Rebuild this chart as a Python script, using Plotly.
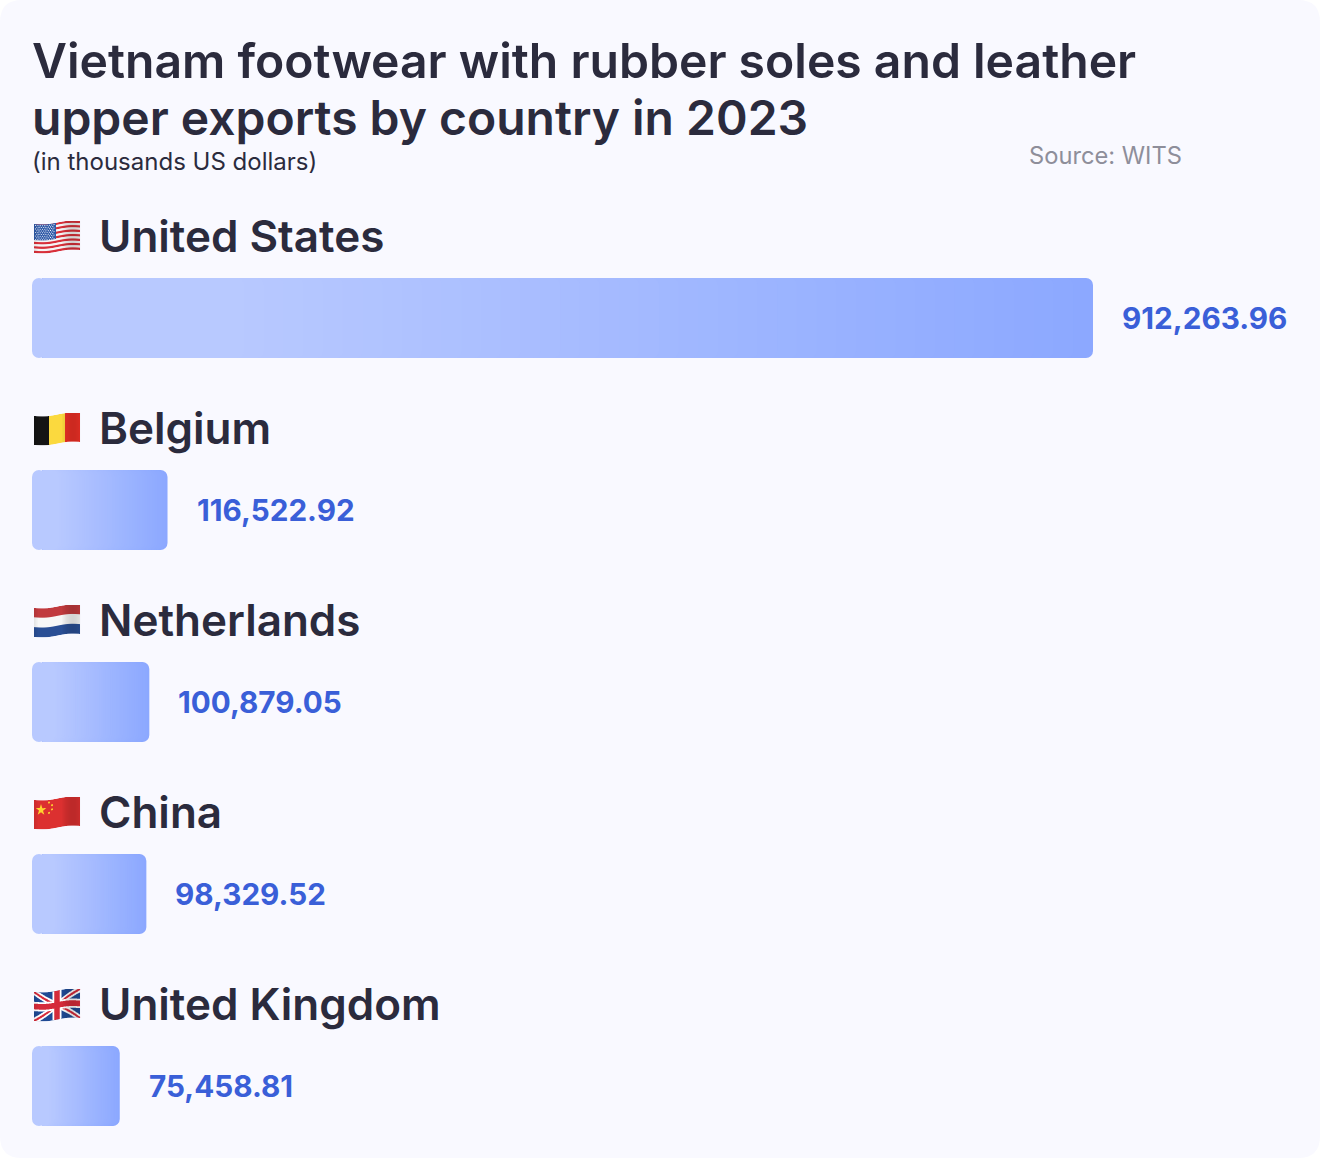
import base64
import math
import plotly.graph_objects as go

W = 1320
H = 1158

countries = ["United States", "Belgium", "Netherlands", "China", "United Kingdom"]
exports = [912263.96, 116522.92, 100879.05, 98329.52, 75458.81]

# flat flag artwork, 46x28, gets waved further down
stars = "".join(f'<circle cx="{1.6+2.3*c+(1.15 if r%2 else 0):.1f}" cy="{1.3+1.7*r:.1f}" r="0.55" fill="#fff"/>'
                for r in range(9) for c in range(8 if r % 2 else 9))
us_stripes = "".join(f'<rect y="{i*28/13:.2f}" width="46" height="{28/13+0.1:.2f}" fill="{"#D8303A" if i%2==0 else "#F5F5F5"}"/>'
                     for i in range(13))
flags = [
    us_stripes + '<rect width="22" height="15.5" fill="#2F5AA8"/>' + stars,
    '<rect width="16" height="28" fill="#141414"/><rect x="15" width="16" height="28" fill="#FBD93E"/>'
    '<rect x="31" width="15" height="28" fill="#EE3026"/>',
    '<rect width="46" height="10" fill="#C13A3E"/><rect y="9" width="46" height="10" fill="#F7F7F7"/>'
    '<rect y="18.5" width="46" height="9.5" fill="#2A4F95"/>',
    '<rect width="46" height="28" fill="#DC3030"/>'
    '<polygon points="7,3.5 8.3,7.5 12.3,7.5 9,10 10.3,14 7,11.5 3.7,14 5,10 1.7,7.5 5.7,7.5" fill="#FFD52E"/>'
    '<circle cx="15" cy="2.5" r="1" fill="#FFD52E"/><circle cx="18" cy="5.5" r="1" fill="#FFD52E"/>'
    '<circle cx="18" cy="9.5" r="1" fill="#FFD52E"/><circle cx="15" cy="12.5" r="1" fill="#FFD52E"/>',
    '<rect width="46" height="28" fill="#1F4A94"/>'
    '<path d="M0,0L46,28M46,0L0,28" stroke="#fff" stroke-width="5.5"/>'
    '<path d="M0,0L46,28M46,0L0,28" stroke="#D52B3A" stroke-width="2"/>'
    '<path d="M23,0V28M0,14H46" stroke="#fff" stroke-width="9"/>'
    '<path d="M23,0V28M0,14H46" stroke="#D52B3A" stroke-width="5.5"/>',
]


def wave_flag(art):
    cols = ""
    for x in range(46):
        dy = 3.0 * (1 - x / 46) + 1.0 * math.sin(2 * math.pi * x / 46)
        shade = 0.14 * max(0, math.sin(2 * math.pi * x / 46 + 2.6))
        cols += (f'<svg x="{x}" y="{dy:.2f}" width="1.4" height="29" viewBox="{x} 0 1.4 28" '
                 f'preserveAspectRatio="none"><use href="#f"/>'
                 f'<rect x="{x}" width="1.4" height="28" fill="#000" opacity="{shade:.3f}"/></svg>')
    svg = (f'<svg xmlns="http://www.w3.org/2000/svg" width="94" height="66" viewBox="0 0 47 33">'
           f'<defs><g id="f">{art}</g></defs>{cols}</svg>')
    return "data:image/svg+xml;base64," + base64.b64encode(svg.encode()).decode()


FONT = "Inter"
INK = "#2B2B3D"
bar_left = (184, 201, 255)
bar_right = (140, 168, 255)
levels = 44

x_per_px = exports[0] / 1061
cap = 7 * x_per_px  # plotly only rounds the far end of a bar, so the left end gets its own cap

fig = go.Figure()

# no gradient fill on plotly bars, so overlay bars from longest to shortest
for i in range(levels):
    t = i / (levels - 1)
    frac = 1 - 0.8 * t
    col = [round(bar_right[c] + (bar_left[c] - bar_right[c]) * t) for c in range(3)]
    fig.add_trace(go.Bar(
        y=countries,
        x=[v * frac - cap for v in exports],
        base=cap,
        orientation="h",
        width=80 / 192,
        marker=dict(color=f"rgb({col[0]},{col[1]},{col[2]})", line=dict(width=0)),
        showlegend=False,
        hoverinfo="skip",
    ))

fig.add_trace(go.Bar(
    y=countries,
    x=[-2 * cap] * len(countries),
    base=2 * cap,
    orientation="h",
    width=80 / 192,
    marker=dict(color=f"rgb{bar_left}", line=dict(width=0)),
    showlegend=False,
    hoverinfo="skip",
))

annotations = []
images = []
for i, (name, val) in enumerate(zip(countries, exports)):
    annotations.append(dict(x=0, y=name, xref="x", yref="y", text=name, showarrow=False,
                            xanchor="left", yanchor="middle", xshift=64.5, yshift=82,
                            font=dict(family=FONT, size=44, color=INK, weight=600)))
    annotations.append(dict(x=val, y=name, xref="x", yref="y", text=f"{val:,.2f}", showarrow=False,
                            xanchor="left", yanchor="middle", xshift=27, yshift=0,
                            font=dict(family=FONT, size=29.7, color="#3A5FD8", weight=700)))
    y_top = 221 + i * 192
    images.append(dict(source=wave_flag(flags[i]), xref="paper", yref="paper",
                       x=34 / W, y=1 - y_top / H, sizex=47 / W, sizey=33 / H,
                       xanchor="left", yanchor="top", sizing="stretch", layer="above"))

annotations.append(dict(x=30 / W, y=1 - 118 / H, xref="paper", yref="paper",
                        text="upper exports by country in 2023",
                        showarrow=False, xanchor="left", yanchor="middle",
                        font=dict(family=FONT, size=48, color=INK, weight=600)))
annotations.append(dict(x=30 / W, y=1 - 161 / H, xref="paper", yref="paper", text="(in thousands US dollars)",
                        showarrow=False, xanchor="left", yanchor="middle",
                        font=dict(family=FONT, size=24, color=INK)))
annotations.append(dict(x=1027 / W, y=1 - 155.5 / H, xref="paper", yref="paper", text="Source: WITS",
                        showarrow=False, xanchor="left", yanchor="middle",
                        font=dict(family=FONT, size=23.7, color="#8E8E9A")))

r = 22
rx = r / W
ry = r / H
card = (f"M {rx},0 L {1-rx},0 Q 1,0 1,{ry} L 1,{1-ry} Q 1,1 {1-rx},1 L {rx},1 Q 0,1 0,{1-ry} L 0,{ry} Q 0,0 {rx},0 Z")

fig.update_layout(
    width=W,
    height=H,
    margin=dict(l=0, r=0, t=0, b=0),
    paper_bgcolor="#FFFFFF",
    plot_bgcolor="rgba(0,0,0,0)",
    barmode="overlay",
    barcornerradius=7,
    title=dict(
        text="Vietnam footwear with rubber soles and leather",
        x=32 / W, xanchor="left", xref="container",
        y=1 - 61 / H, yanchor="middle", yref="container",
        font=dict(family=FONT, size=48.1, color=INK, weight=600),
    ),
    xaxis=dict(domain=[32 / W, 1], range=[0, 1288 * x_per_px], visible=False),
    yaxis=dict(domain=[0, 1 - 222 / H], range=[4.375, -0.5], visible=False,
               categoryorder="array", categoryarray=countries),
    annotations=annotations,
    images=images,
    shapes=[dict(type="path", path=card, xref="paper", yref="paper",
                 fillcolor="#F9F9FF", line=dict(width=0), layer="below")],
)

fig.write_html("out.html", config=dict(displayModeBar=False), post_script="document.body.style.margin='0';")
